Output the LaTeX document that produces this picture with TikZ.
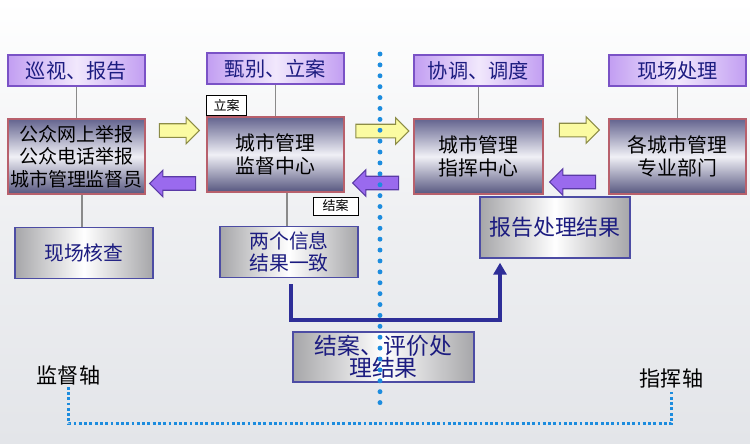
\documentclass[tikz,border=0pt]{standalone}
\usepackage{fontspec}
\setmainfont{Noto Sans CJK SC}
\usepackage{xcolor}
\usepackage{tikz}
\usetikzlibrary{positioning, arrows.meta, shapes.arrows, calc}

\definecolor{hdrfill}{HTML}{C29EF2}
\definecolor{hdrmid}{HTML}{F1E8FC}
\definecolor{hdrline}{HTML}{7A52C6}
\definecolor{navytext}{HTML}{1C1C80}
\definecolor{unittop}{HTML}{64648F}
\definecolor{unitmid}{HTML}{F0F0F6}
\definecolor{unitbot}{HTML}{56567F}
\definecolor{unitline}{HTML}{B8606C}
\definecolor{silverside}{HTML}{A6A6A9}
\definecolor{silverline}{HTML}{4C4CA4}
\definecolor{gofill}{HTML}{FBFBA2}
\definecolor{goline}{HTML}{8C8C46}
\definecolor{backfill}{HTML}{9A6AEE}
\definecolor{backline}{HTML}{5A3AA6}
\definecolor{linkgray}{HTML}{8A8A8A}
\definecolor{flowblue}{HTML}{2E2E98}
\definecolor{dotblue}{HTML}{1C8CDE}
\definecolor{bgbot}{HTML}{E3E5E9}

\begin{document}
\begin{tikzpicture}[
	x=0.02cm, y=-0.02cm,
	node distance=0.63cm and 1cm,
	hdr/.style={rectangle, draw=hdrline, line width=0.8pt, left color=hdrfill, right color=hdrfill, middle color=hdrmid, text=navytext, minimum width=2.74cm, minimum height=0.62cm, inner sep=0pt, font=\fontsize{11.5}{13}\selectfont},
	unit/.style={rectangle, draw=unitline, line width=0.8pt, top color=unittop, bottom color=unitbot, middle color=unitmid, minimum width=2.74cm, minimum height=1.5cm, text centered, align=center, inner sep=0pt, font=\fontsize{11.3}{12.8}\selectfont},
	silver/.style={rectangle, draw=silverline, line width=0.8pt, left color=silverside, right color=silverside, middle color=white, text=navytext, text centered, align=center, inner sep=0pt, font=\fontsize{11.3}{12.8}\selectfont},
	tag/.style={rectangle, draw=black, line width=0.5pt, fill=white, inner sep=0pt, font=\fontsize{7.4}{8}\selectfont},
	go/.style={single arrow, draw=goline, fill=gofill, line width=0.6pt, inner sep=0.125cm, single arrow head extend=0.13cm, minimum height=0.8cm},
	back/.style={go, draw=backline, fill=backfill, shape border rotate=180, minimum height=0.92cm},
	link/.style={draw=linkgray, line width=1.1pt},
	flow/.style={draw=flowblue, line width=2.3pt, -{Triangle[width=0.26cm, length=0.24cm]}},
	axis/.style={draw=dotblue, line width=1.6pt, dash pattern=on 1.6pt off 1.4pt},
	divide/.style={draw=dotblue, line width=2.8pt, line cap=round, dash pattern=on 0pt off 6.2pt},
	axislabel/.style={inner sep=1pt, font=\fontsize{12}{13}\selectfont}
	]
	
	% Background
	\useasboundingbox (0,0) rectangle (750,443);
	\fill[top color=white, bottom color=bgbot, middle color=bgbot!60!white] (0,0) rectangle (750,443);
	
	% Main boxes
	\node[unit, font=\fontsize{10.8}{12.8}\selectfont] (pub) at (76.5,156.5) {公众网上举报\\公众电话举报\\城市管理监督员};
	\node[unit] (sup) at (275.5,154.5) {城市管理\\监督中心};
	\node[unit, minimum width=2.58cm] (cmd) at (478.5,156.5) {城市管理\\指挥中心};
	\node[unit] (dept) at (677.5,156.5) {各城市管理\\专业部门};
	
	% Headers
	\node[hdr, above=of pub] (patrol) {巡视、报告};
	\node[hdr, above=of sup] (screen) {甄别、立案};
	\node[hdr, above=of cmd, minimum width=2.58cm] (dispatch) {协调、调度};
	\node[hdr, above=of dept] (onsite) {现场处理};
	
	% Tags
	\node[tag, minimum width=0.8cm, minimum height=0.4cm, anchor=south west] (filed) at (sup.north west) {立案};
	\node[tag, minimum width=0.9cm, minimum height=0.36cm] (closed) at (335.5,206) {结案};
	
	% Lower boxes
	\node[silver, minimum width=2.76cm, minimum height=1.02cm, below=0.64cm of pub, xshift=0.15cm] (check) {现场核查};
	\node[silver, minimum width=2.76cm, minimum height=1.02cm, below=0.66cm of sup, xshift=0.27cm] (match) {两个信息\\结果一致};
	\node[silver, minimum width=3cm, minimum height=1.22cm, font=\fontsize{12.5}{14}\selectfont] (report) at (555,227.5) {报告处理结果};
	\node[silver, minimum width=3.62cm, minimum height=1cm, font=\fontsize{13}{12.6}\selectfont] (settle) at (383.5,357) {结案、评价处\\理结果};
	
	% Axis labels
	\node[axislabel] (supaxis) at (68.5,375) {监督轴};
	\node[axislabel] (cmdaxis) at (671.5,378) {指挥轴};
	
	% Links
	\draw[link] (patrol) -- (pub);
	\draw[link] (screen) -- (sup);
	\draw[link] (dispatch) -- (cmd);
	\draw[link] (onsite) -- (dept);
	\draw[link] ([xshift=-0.04cm]check.north) -- ([xshift=-0.04cm]check.north |- pub.south);
	\draw[link] ([xshift=-0.04cm]match.north) -- ([xshift=-0.04cm]match.north |- sup.south);
	
	% Block arrows
	\node[go, yshift=0.5cm] (fwd1) at ($(pub.east)!0.5!(sup.west)$) {};
	\node[back, yshift=-0.56cm] (back1) at ($(pub.east)!0.5!(sup.west)$) {};
	\node[go, yshift=0.49cm, minimum height=1.06cm] (fwd2) at ($(sup.east)!0.5!(cmd.west)$) {};
	\node[back, yshift=-0.55cm] (back2) at ($(sup.east)!0.5!(cmd.west)$) {};
	\node[go, yshift=0.53cm] (fwd3) at ($(cmd.east)!0.5!(dept.west)$) {};
	\node[back, yshift=-0.51cm] (back3) at ($(cmd.east)!0.5!(dept.west)$) {};
	
	% Result flow
	\draw[flow] ($(match.south)+(2,6)$) -- ++(0,36) -| ($(report.south)+(-55,4)$);
	
	% Divider and axes
	\coordinate (divtop) at (380,54);
	\coordinate (divbot) at (380,410);
	\draw[divide] (divtop) -- (divbot);
	\draw[axis] (supaxis.south) -- ++(0,37) -| (cmdaxis.south);
	
\end{tikzpicture}
\end{document}
